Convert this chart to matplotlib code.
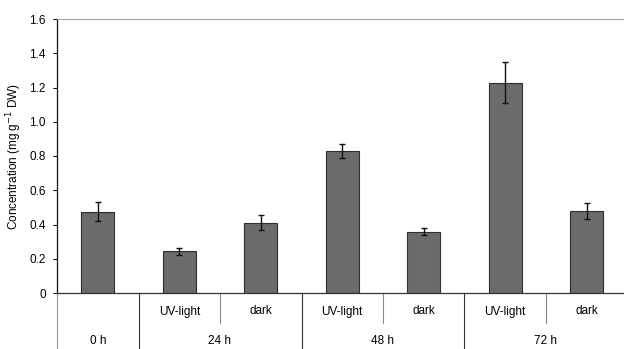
import matplotlib
matplotlib.use("Agg")
import matplotlib.pyplot as plt
import matplotlib.transforms as mtransforms

plt.rcParams['font.family'] = ['Liberation Sans', 'DejaVu Sans']

sub_labels = ["", "UV-light", "dark", "UV-light", "dark", "UV-light", "dark"]
group_labels = ["0 h", "24 h", "48 h", "72 h"]
group_centers = [0, 1.5, 3.5, 5.5]
values = [0.474, 0.244, 0.410, 0.829, 0.357, 1.229, 0.478]
errors = [0.055, 0.021, 0.043, 0.042, 0.020, 0.119, 0.045]
yticks = [0, 0.2, 0.4, 0.6, 0.8, 1.0, 1.2, 1.4, 1.6]
ytick_labels = ["0", "0.2", "0.4", "0.6", "0.8", "1.0", "1.2", "1.4", "1.6"]

W, H = 624, 349
fig = plt.figure(figsize=(W / 100, H / 100), dpi=100)
left, right, top, bottom = 57, 627.5, 19, 293
ax = fig.add_axes([left / W, 1 - bottom / H, (right - left) / W, (bottom - top) / H])

x = list(range(len(values)))
ax.bar(x, values, width=0.41, color="#6b6b6b", edgecolor="#2e2e2e", linewidth=0.8, zorder=2)
ax.errorbar(x, values, yerr=errors, fmt="none", ecolor="#111111", elinewidth=1.0,
            capsize=2.5, capthick=1.0, zorder=3)

ax.set_xlim(-0.5, 6.5)
ax.set_ylim(0, 1.6)
ax.set_yticks(yticks)
ax.set_yticklabels(ytick_labels, fontsize=8.5)
ax.tick_params(axis="y", direction="out", length=3, width=0.8, pad=5)
ax.set_xticks([])

for s in ["top", "right"]:
    ax.spines[s].set_color("#a0a0a0")
    ax.spines[s].set_linewidth(0.8)
ax.spines["left"].set_color("#111111")
ax.spines["left"].set_linewidth(0.9)
ax.spines["bottom"].set_color("#333333")
ax.spines["bottom"].set_linewidth(0.9)

ax.set_ylabel("Concentration (mg g$^{-1}$ DW)", fontsize=8.5, labelpad=4)

trans = mtransforms.blended_transform_factory(ax.transData, ax.transAxes)
ybot = -(H - bottom) / (bottom - top)
yshort = -(323 - bottom) / (bottom - top)

ax.plot([-0.5, -0.5], [0, ybot], transform=trans, color="#a0a0a0", lw=0.9, clip_on=False)
for xb in [0.5, 2.5, 4.5]:
    ax.plot([xb, xb], [0, ybot], transform=trans, color="#333333", lw=0.8, clip_on=False)
for xb in [1.5, 3.5, 5.5]:
    ax.plot([xb, xb], [0, yshort], transform=trans, color="#888888", lw=0.8, clip_on=False)

ysub = -(311.5 - bottom) / (bottom - top)
ygrp = -(341.5 - bottom) / (bottom - top)
for xi, lab in zip(x, sub_labels):
    if lab:
        ax.text(xi, ysub, lab, transform=trans, ha="center", va="center", fontsize=8.5)
for xc, lab in zip(group_centers, group_labels):
    ax.text(xc, ygrp, lab, transform=trans, ha="center", va="center", fontsize=8.5)

fig.savefig("out.png", dpi=100)
